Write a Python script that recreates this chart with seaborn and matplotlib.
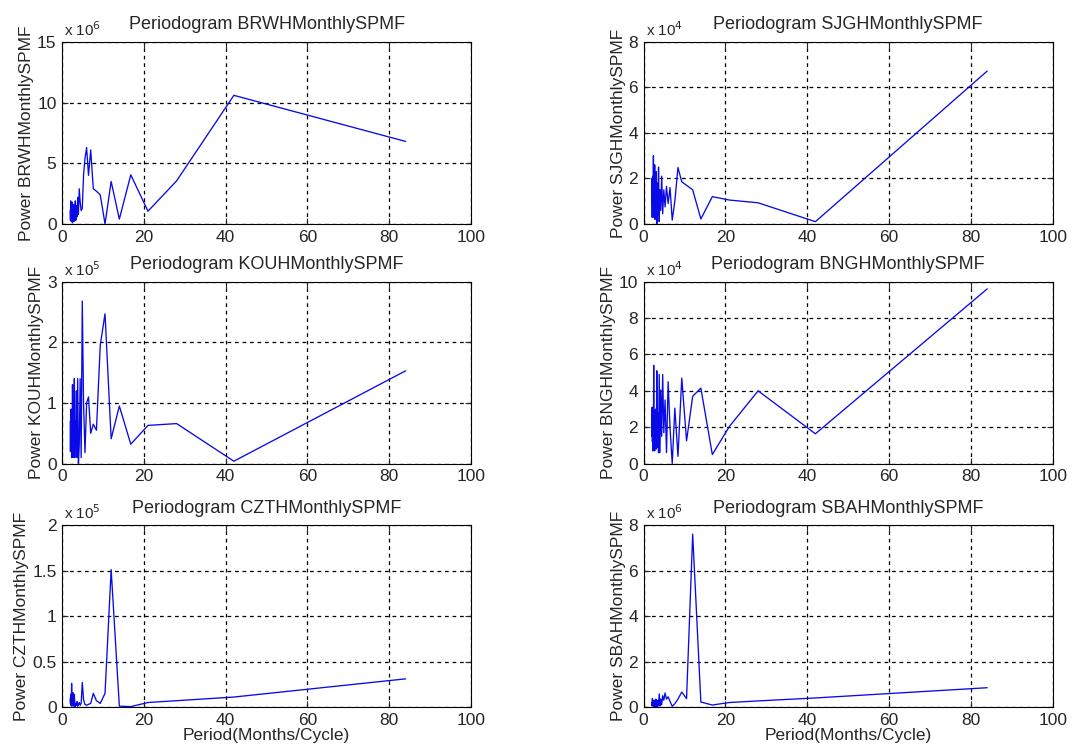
import numpy as np
import pandas as pd
import matplotlib
matplotlib.use("Agg")
import matplotlib.pyplot as plt
import seaborn as sns

# periodo de cada armonico: 84 meses / k, k = 1..42
k = np.arange(1, 43)
period = 84.0 / k

# potencia (en unidades de x 10^n)
brwh = [6.8, 10.6, 3.55, 1.05, 4.05, 0.4, 3.5, 0.0, 2.4, 2.7,
        2.9, 6.1, 4.0, 6.3, 5.4, 4.0, 1.3, 1.1, 1.8, 2.9,
        0.8, 2.2, 0.6, 1.5, 0.3, 1.9, 0.7, 1.3, 0.2, 1.6,
        0.5, 1.2, 0.1, 1.8, 0.6, 1.4, 0.2, 1.0, 0.4, 1.9, 0.3, 1.1]
sjgh = [6.72, 0.1, 0.93, 1.05, 1.2, 0.22, 1.5, 1.7, 1.85, 2.48,
        1.0, 0.17, 1.6, 0.9, 1.65, 0.75, 1.5, 0.45, 2.1, 0.6,
        1.5, 0.1, 2.5, 0.4, 1.8, 0.0, 2.3, 0.6, 1.2, 0.2,
        2.6, 0.8, 1.6, 0.3, 3.0, 0.5, 2.1, 0.3, 1.4, 0.9, 2.0, 0.3]
kouh = [1.53, 0.04, 0.66, 0.63, 0.32, 0.95, 0.41, 2.47, 1.95, 0.55,
        0.65, 0.5, 1.1, 1.0, 0.18, 1.0, 2.68, 0.1, 1.4, 0.3,
        0.0, 1.4, 0.1, 1.2, 0.4, 0.7, 0.1, 1.4, 0.3, 0.9,
        0.1, 0.6, 1.3, 0.2, 0.8, 0.1, 0.5, 0.9, 0.3, 0.6, 0.2, 0.7]
bngh = [9.6, 1.64, 4.0, 2.05, 0.5, 4.15, 3.7, 1.25, 4.7, 0.4,
        3.05, 0.0, 1.95, 4.5, 0.6, 3.5, 1.7, 4.9, 1.5, 4.05,
        0.6, 4.9, 0.6, 2.8, 0.9, 5.1, 0.8, 3.0, 1.3, 2.5,
        0.7, 2.9, 1.0, 5.4, 1.4, 3.1, 0.7, 2.7, 1.2, 3.1, 1.5, 2.9]
czth = [0.31, 0.11, 0.07, 0.05, 0.005, 0.01, 1.51, 0.15, 0.04, 0.07,
        0.15, 0.04, 0.03, 0.02, 0.03, 0.08, 0.27, 0.04, 0.02, 0.05,
        0.03, 0.01, 0.06, 0.02, 0.04, 0.0, 0.03, 0.14, 0.01, 0.05,
        0.02, 0.16, 0.02, 0.08, 0.01, 0.26, 0.03, 0.12, 0.02, 0.14, 0.04, 0.09]
sbah = [0.85, 0.4, 0.27, 0.2, 0.09, 0.22, 7.6, 0.37, 0.66, 0.35,
        0.15, 0.03, 0.25, 0.45, 0.35, 0.62, 0.3, 0.5, 0.1, 0.35,
        0.05, 0.58, 0.05, 0.3, 0.0, 0.2, 0.05, 0.35, 0.02, 0.15,
        0.3, 0.05, 0.2, 0.0, 0.1, 0.3, 0.05, 0.15, 0.38, 0.1, 0.2, 0.05]

names = ["BRWHMonthlySPMF", "SJGHMonthlySPMF", "KOUHMonthlySPMF",
         "BNGHMonthlySPMF", "CZTHMonthlySPMF", "SBAHMonthlySPMF"]
series = [brwh, sjgh, kouh, bngh, czth, sbah]
exponents = [6, 4, 5, 4, 5, 6]
ylims = [15, 8, 3, 10, 2, 8]
yticks = [[0, 5, 10, 15], [0, 2, 4, 6, 8], [0, 1, 2, 3],
          [0, 2, 4, 6, 8, 10], [0, 0.5, 1, 1.5, 2], [0, 2, 4, 6, 8]]
ytick_labels = [["0", "5", "10", "15"], ["0", "2", "4", "6", "8"], ["0", "1", "2", "3"],
                ["0", "2", "4", "6", "8", "10"], ["0", "0.5", "1", "1.5", "2"], ["0", "2", "4", "6", "8"]]

sns.set_style("white")
plt.rcParams["font.family"] = ["Liberation Sans", "DejaVu Sans"]

fig = plt.figure(figsize=(10.89, 7.49), dpi=100)
lefts = [0.057, 0.591]
bottoms = [0.701, 0.381, 0.056]
w, h = 0.3756, 0.243

for i, (name, vals) in enumerate(zip(names, series)):
    row, col = divmod(i, 2)
    ax = fig.add_axes([lefts[col], bottoms[row], w, h])
    df = pd.DataFrame({"period": period, "power": vals})
    sns.lineplot(data=df, x="period", y="power", ax=ax, color="#0a0ae6",
                 linewidth=0.95, sort=True, estimator=None)
    ax.set_xlim(0, 100)
    ax.set_ylim(0, ylims[i])
    ax.set_xticks([0, 20, 40, 60, 80, 100])
    ax.set_yticks(yticks[i])
    ax.set_yticklabels(ytick_labels[i])
    ax.grid(True, color="black", linestyle=(0, (3, 3)), linewidth=0.9)
    ax.tick_params(direction="in", length=4, labelsize=12.5, top=True, right=True,
                   bottom=True, left=True, pad=4)
    for sp in ax.spines.values():
        sp.set_color("black")
        sp.set_linewidth(0.8)
    ax.set_title("Periodogram " + name, fontsize=13, pad=9)
    ax.set_ylabel("Power " + name, fontsize=12.5, labelpad=2)
    if row == 2:
        ax.set_xlabel("Period(Months/Cycle)", fontsize=12.5, labelpad=0)
    else:
        ax.set_xlabel("")
    ax.text(0.005, 1.015, "x 10$^{%d}$" % exponents[i], transform=ax.transAxes,
            fontsize=11, ha="left", va="bottom")

fig.savefig("out.png", dpi=100)
